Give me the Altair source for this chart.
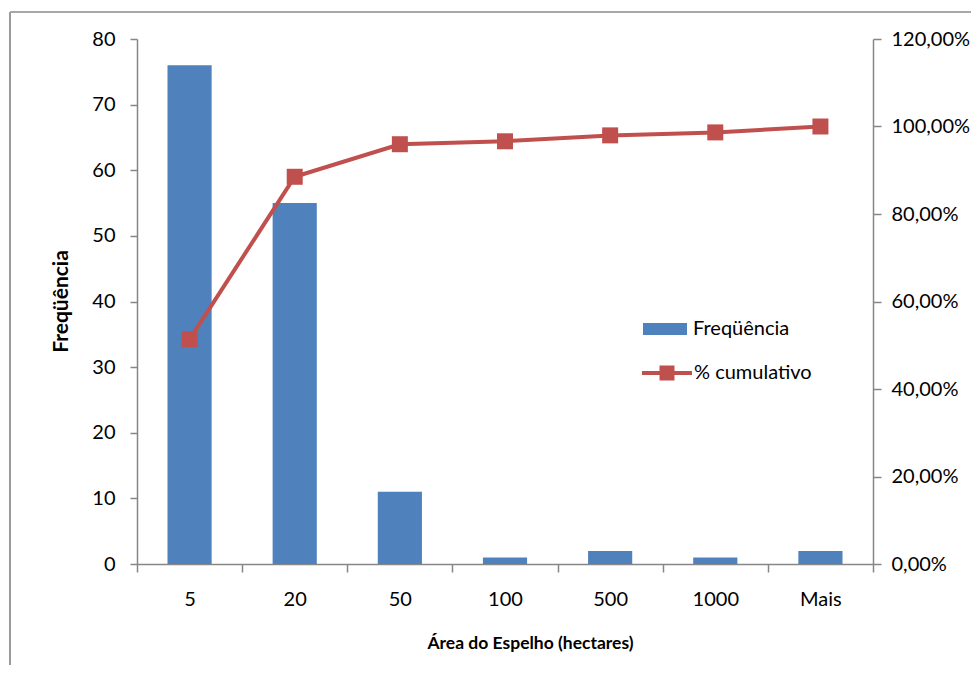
import altair as alt
import pandas as pd

categories = ["5", "20", "50", "100", "500", "1000", "Mais"]
frequencia = [76, 55, 11, 1, 2, 1, 2]
cumulativo = [51.35, 88.51, 95.95, 96.62, 97.97, 98.65, 100.0]
freq_ticks = [0, 10, 20, 30, 40, 50, 60, 70, 80]
pct_ticks = [0, 20, 40, 60, 80, 100, 120]

df = pd.DataFrame({"area": categories, "freq": frequencia, "cum": cumulativo})

FONT = "Lato"
GRAY = "#868686"
BLUE = "#4F81BD"
RED = "#C0504D"

x_enc = alt.X(
    "area:N",
    sort=categories,
    scale=alt.Scale(paddingInner=0, paddingOuter=0),
    axis=alt.Axis(
        title="Área do Espelho (hectares)",
        labelAngle=0,
        tickBand="extent",
        tickSize=8,
        labelPadding=17,
        labelFontSize=20,
        titleFontSize=17.5,
        titleFontWeight="bold",
        titleX=393,
        titleY=79,
        titleBaseline="middle",
        titleAlign="center",
    ),
)

bars = (
    alt.Chart(df)
    .transform_calculate(s="'Freqüência'")
    .mark_bar(width=alt.RelativeBandSize(0.42))
    .encode(
        x=x_enc,
        y=alt.Y(
            "freq:Q",
            scale=alt.Scale(domain=[0, 80]),
            axis=alt.Axis(
                orient="left",
                values=freq_ticks,
                title="Freqüência",
                titleFontSize=21,
                titleFontWeight="bold",
                titleX=-76,
                titleY=262,
                titleAngle=270,
                titleBaseline="middle",
                titleAlign="center",
                tickSize=7,
                labelPadding=15,
                labelFontSize=20,
            ),
        ),
        color=alt.Color(
            "s:N",
            scale=alt.Scale(domain=["Freqüência"], range=[BLUE]),
            legend=alt.Legend(
                title=None,
                orient="none",
                legendX=506,
                legendY=268,
                padding=0,
                symbolType="M-1,-0.27H1V0.27H-1Z",
                symbolSize=1936,
                symbolStrokeWidth=0,
                symbolFillColor=BLUE,
                labelOffset=6,
                labelFontSize=20,
                labelFont=FONT,
            ),
        ),
    )
)

line = (
    alt.Chart(df)
    .transform_calculate(s="'% cumulativo'")
    .mark_line(
        strokeWidth=4,
        point=alt.OverlayMarkDef(shape="square", size=256, filled=True, opacity=1),
    )
    .encode(
        x=x_enc,
        y=alt.Y(
            "cum:Q",
            scale=alt.Scale(domain=[0, 120]),
            axis=alt.Axis(
                orient="right",
                values=pct_ticks,
                title=None,
                tickSize=8,
                labelPadding=10,
                labelFontSize=20,
                labelExpr="replace(format(datum.value, '.2f'), '.', ',') + '%'",
            ),
        ),
        color=alt.Color(
            "s:N",
            scale=alt.Scale(domain=["% cumulativo"], range=[RED]),
            legend=alt.Legend(
                title=None,
                orient="none",
                legendX=503,
                legendY=307,
                padding=0,
                symbolType="M-1,0H1M-0.22,-0.22H0.22V0.22H-0.22Z",
                symbolSize=2500,
                symbolStrokeWidth=4,
                symbolStrokeColor=RED,
                symbolFillColor=RED,
                labelOffset=0,
                labelFontSize=20,
                labelFont=FONT,
            ),
        ),
    )
)

frame_left = alt.Chart(df).mark_rule(color="#9A9A9A", strokeWidth=2).encode(
    x=alt.value(-127), y=alt.value(-27), y2=alt.value(700)
)
frame_top = alt.Chart(df).mark_rule(color="#A8A8A8", strokeWidth=1.5).encode(
    x=alt.value(-127), x2=alt.value(900), y=alt.value(-27)
)

chart = (
    alt.layer(frame_left, frame_top, bars, line)
    .resolve_scale(y="independent", color="independent")
    .properties(
        width=736,
        height=525,
        autosize=alt.AutoSizeParams(type="none"),
        padding={"left": 129, "top": 31, "right": 98, "bottom": 101},
    )
    .configure_view(stroke=None)
    .configure_axis(
        domainColor=GRAY,
        tickColor=GRAY,
        domainWidth=1.5,
        tickWidth=1.5,
        grid=False,
        labelColor="#000000",
        titleColor="#000000",
        labelFont=FONT,
        titleFont=FONT,
    )
)

chart.save("out.html", embed_options={"renderer": "svg", "actions": False})
